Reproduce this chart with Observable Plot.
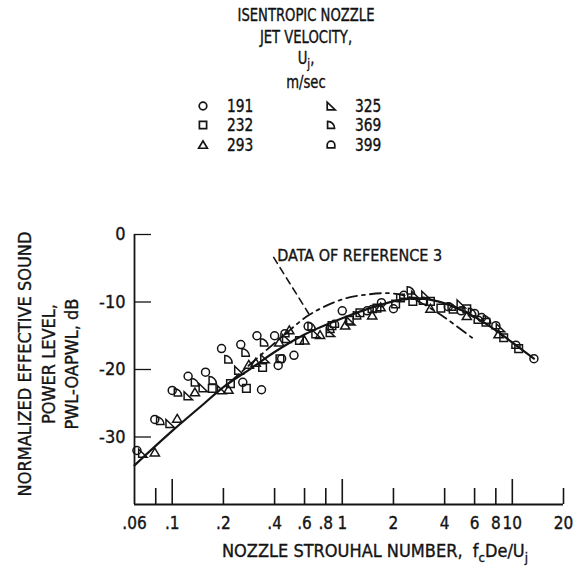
<!DOCTYPE html>
<html><head><meta charset="utf-8">
<script src="https://cdn.jsdelivr.net/npm/d3@7"></script>
<script src="https://cdn.jsdelivr.net/npm/@observablehq/plot@0.6"></script>
<style>
body{margin:0;background:#fff;}
#wrap{position:relative;width:579px;height:572px;font-family:"DejaVu Sans Condensed","DejaVu Sans",sans-serif;font-stretch:condensed;color:#111;-webkit-text-stroke:0.35px #111;}
#legend{position:absolute;left:0;top:0;width:579px;height:160px;}
.lt{position:absolute;left:206px;width:200px;text-align:center;font-size:17px;line-height:20px;white-space:nowrap;transform:scaleX(0.86);transform-origin:50% 50%;}
.lt sub{font-size:13px;vertical-align:-4px;line-height:0;}
.sym{position:absolute;width:14px;height:14px;}
.num{position:absolute;font-size:17px;line-height:20px;transform:scaleX(0.9);transform-origin:0 50%;}
#chart{position:absolute;left:0;top:160px;}
svg text{font-stretch:condensed;stroke:#141414;stroke-width:0.35px;}
</style></head>
<body><div id="wrap"><div id="legend"></div><div id="chart"></div></div>
<script>
// ---- data ----
const seriesLabels = ["191", "232", "293", "325", "369", "399"];
const x191 = [0.062, 0.079, 0.100, 0.124, 0.157, 0.195, 0.253, 0.26, 0.335, 0.315, 0.40, 0.42, 0.44, 0.52, 0.63, 1.0, 1.40, 1.70, 2.0, 4.2, 5.0, 6.0, 6.6, 13.4];
const y191 = [-32.0, -27.4, -23.1, -21.0, -20.4, -16.9, -16.3, -21.9, -23.0, -15.0, -15.0, -19.4, -18.4, -17.9, -13.6, -11.3, -11.3, -10.1, -11.0, -10.7, -11.3, -11.7, -12.3, -18.4];
const x232 = [0.172, 0.22, 0.273, 0.34, 0.43, 0.56, 0.87, 1.10, 1.27, 1.6, 2.06, 2.2, 2.6, 3.3, 3.8, 5.4, 7.0, 8.9, 10.9];
const y232 = [-22.8, -22.1, -22.8, -19.7, -18.4, -15.7, -13.5, -12.7, -11.6, -10.9, -10.3, -9.4, -9.9, -9.9, -10.9, -11.0, -13.0, -15.3, -16.9];
const x293 = [0.079, 0.107, 0.136, 0.214, 0.282, 0.31, 0.426, 0.488, 0.60, 0.74, 1.04, 1.5, 1.68, 3.3, 5.4, 8.3];
const y293 = [-32.3, -27.3, -23.4, -23.0, -19.3, -19.0, -16.0, -14.2, -15.7, -14.9, -13.5, -12.0, -10.8, -11.0, -12.1, -14.8];
const x325 = [0.067, 0.097, 0.124, 0.152, 0.195, 0.246, 0.35, 0.47, 0.70, 0.85, 1.12, 2.7, 3.1, 5.0, 8.5];
const y325 = [-32.4, -28.0, -23.9, -22.7, -23.0, -20.1, -18.4, -15.4, -14.7, -14.5, -12.8, -9.0, -9.0, -10.3, -13.8];
const x369 = [0.085, 0.108, 0.136, 0.173, 0.214, 0.270, 0.347, 0.66, 0.85, 1.22, 2.53, 4.4, 5.8, 7.1];
const y369 = [-27.6, -23.4, -21.9, -21.6, -18.5, -17.5, -16.0, -13.6, -14.0, -12.0, -8.3, -10.7, -11.5, -12.6];
const x399 = [0.46, 0.90, 1.5, 2.3, 3.0, 4.5, 6.3, 8.0, 10.5];
const y399 = [-14.7, -13.3, -11.1, -9.0, -9.9, -11.2, -12.7, -13.5, -16.4];

const fitX = [0.06, 0.1, 0.15, 0.2, 0.3, 0.4, 0.6, 1.0, 1.5, 2.0, 2.5, 3.0, 4.0, 5.0, 6.0, 8.0, 10.0, 13.4];
const fitY = [-34.2, -29.1, -25.3, -22.6, -19.6, -17.4, -14.8, -12.4, -10.8, -9.9, -9.5, -9.5, -10.2, -11.2, -12.2, -14.2, -16.0, -18.4];
const refX = [0.22, 0.32, 0.45, 0.64, 1.0, 1.4, 1.9, 2.36, 2.9, 4.0, 5.8];
const refY = [-21.8, -18.2, -15.0, -11.9, -9.6, -8.9, -8.7, -9.1, -10.1, -12.3, -15.3];
const leaderX = [0.395, 0.634];
const leaderY = [-3.4, -11.7];
const refLabel = "DATA OF REFERENCE 3";
const refLabelX = [0.415];
const refLabelY = [-3.2];

const xTickValues = [0.08, 0.1, 0.2, 0.4, 0.6, 0.8, 1, 2, 4, 6, 8, 10, 20];
const xMajorTicks = [0.1, 1, 10];
const xLabelValues = [0.06, 0.1, 0.2, 0.4, 0.6, 0.8, 1, 2, 4, 6, 8, 10, 20];
const xLabelText = [".06", ".1", ".2", ".4", ".6", ".8", "1", "2", "4", "6", "8", "10", "20"];
const yTickValues = [0, -10, -20, -30];
const yTickText = ["0", "-10", "-20", "-30"];
const yTitleLines = ["NORMALIZED EFFECTIVE SOUND", "POWER LEVEL,", "PWL-OAPWL, dB"];

// ---- symbols ----
const rad = s => Math.sqrt(s / Math.PI);
const symCircle = {draw(c, s){ const r = rad(s); c.moveTo(r, 0); c.arc(0, 0, r, 0, 2 * Math.PI); c.closePath(); }};
const symSquare = {draw(c, s){ const r = rad(s) * 0.95; c.moveTo(-r, -r); c.lineTo(r, -r); c.lineTo(r, r); c.lineTo(-r, r); c.closePath(); }};
const symTri = {draw(c, s){ const r = rad(s); c.moveTo(0, -r * 1.1); c.lineTo(r * 1.15, r * 0.85); c.lineTo(-r * 1.15, r * 0.85); c.closePath(); }};
const symRightTri = {draw(c, s){ const r = rad(s); c.moveTo(-r, -r); c.lineTo(-r, r); c.lineTo(r * 1.1, r); c.closePath(); }};
const symQuarter = {draw(c, s){ const r = rad(s); const R = 1.85 * r, cx = -0.9 * r, cy = 0.9 * r; c.moveTo(cx, cy); c.lineTo(cx, cy - R); c.arc(cx, cy, R, -Math.PI / 2, 0); c.closePath(); }};
const symDome = {draw(c, s){ const r = rad(s); c.moveTo(-r, 0.75 * r); c.lineTo(-r, 0); c.arc(0, 0, r, Math.PI, 2 * Math.PI); c.lineTo(r, 0.75 * r); c.closePath(); }};
const symbols = [symCircle, symSquare, symTri, symRightTri, symQuarter, symDome];

const seriesX = [x191, x232, x293, x325, x369, x399];
const seriesY = [y191, y232, y293, y325, y369, y399];
const series = seriesLabels.map((k, i) => ({key: k, sym: symbols[i], pts: seriesX[i].map((x, j) => ({x, y: seriesY[i][j]}))}));

const ink = "#141414";
const fontFam = '"DejaVu Sans Condensed","DejaVu Sans",sans-serif';

// ---- legend (HTML) ----
const legend = d3.select("#legend");
const titleLines = [["ISENTROPIC NOZZLE", 5], ["JET VELOCITY,", 27], ["U<sub>j</sub>,", 48], ["m/sec", 72]];
titleLines.forEach(([t, top]) => legend.append("div").attr("class", "lt").style("top", top + "px").html(t));
const legendPos = [[203, 106], [203, 125], [203, 145], [331, 106], [331, 125], [331, 145]];
series.forEach((s, i) => {
  const [lx, ly] = legendPos[i];
  const svg = legend.append("svg").attr("class", "sym").attr("width", 14).attr("height", 14)
    .style("left", (lx - 7) + "px").style("top", (ly - 7) + "px");
  svg.append("path").attr("transform", "translate(7,7)")
    .attr("d", d3.symbol(s.sym, Math.PI * 3.8 * 3.8)())
    .attr("fill", "none").attr("stroke", ink).attr("stroke-width", 1.7);
  legend.append("div").attr("class", "num").style("left", (lx + 24) + "px").style("top", (ly - 10) + "px").text(s.key);
});

// ---- chart ----
const logSpan = Math.log10(20 / 0.06);
const xPerPx = logSpan / 429;
const yPerPx = 40 / 270;
const marks = [
  Plot.ruleX([0.06], {y1: -40, y2: 0, stroke: ink, strokeWidth: 1.8}),
  Plot.ruleY([-40], {x1: 0.06, x2: 20, stroke: ink, strokeWidth: 1.8}),
  Plot.ruleX(xTickValues, {y1: -40, y2: d => -40 + (xMajorTicks.includes(d) ? 25 : 16) * yPerPx, stroke: ink, strokeWidth: 1.6}),
  Plot.ruleY(yTickValues, {x1: 0.06, x2: 0.06 * Math.pow(10, 17 * xPerPx), stroke: ink, strokeWidth: 1.3}),
  Plot.text(xLabelValues, {x: d => d, y: -40, text: (d, i) => xLabelText[i], dy: 19, fontSize: 17, fill: ink}),
  Plot.text(yTickValues, {x: 0.06, y: d => d, text: (d, i) => yTickText[i], textAnchor: "end", dx: -9, fontSize: 18, fill: ink}),
  Plot.line(fitX.map((x, i) => ({x, y: fitY[i]})), {x: "x", y: "y", curve: "catmull-rom", stroke: ink, strokeWidth: 2.2}),
  Plot.line(refX.map((x, i) => ({x, y: refY[i]})), {x: "x", y: "y", curve: "catmull-rom", stroke: ink, strokeWidth: 1.8, strokeDasharray: "11,5,3,5"}),
  Plot.line(leaderX.map((x, i) => ({x, y: leaderY[i]})), {x: "x", y: "y", stroke: ink, strokeWidth: 1.6, strokeDasharray: "7,5"}),
  Plot.text([refLabel], {x: refLabelX, y: refLabelY, text: d => d, textAnchor: "start", fontSize: 16, fill: ink}),
  ...series.map(s => Plot.dot(s.pts, {x: "x", y: "y", r: 4, symbol: s.sym, fill: "none", stroke: ink, strokeWidth: 1.5}))
];

const plot = Plot.plot({
  width: 579, height: 412,
  marginLeft: 134, marginRight: 16, marginTop: 74, marginBottom: 68,
  x: {type: "log", domain: [0.06, 20], axis: null},
  y: {domain: [-40, 0], axis: null},
  style: {fontFamily: fontFam, fontSize: "18px", color: ink, background: "#fff"},
  marks
});
document.getElementById("chart").appendChild(plot);

const svg = d3.select(plot);
const ycx = [25, 49, 72];
yTitleLines.forEach((t, i) => {
  svg.append("text").attr("transform", `translate(${ycx[i]},204) rotate(-90)`)
    .attr("text-anchor", "middle").attr("dy", "0.36em")
    .attr("font-size", 18).attr("font-family", fontFam).attr("fill", ink).text(t);
});
const xt = svg.append("text").attr("x", 375).attr("y", 397).attr("text-anchor", "middle")
  .attr("font-size", 18).attr("font-family", fontFam).attr("fill", ink);
xt.append("tspan").text("NOZZLE STROUHAL NUMBER,  f");
xt.append("tspan").attr("font-size", 13).attr("dy", 5).text("c");
xt.append("tspan").attr("dy", -5).text("De/U");
xt.append("tspan").attr("font-size", 13).attr("dy", 5).text("j");
</script></body></html>
